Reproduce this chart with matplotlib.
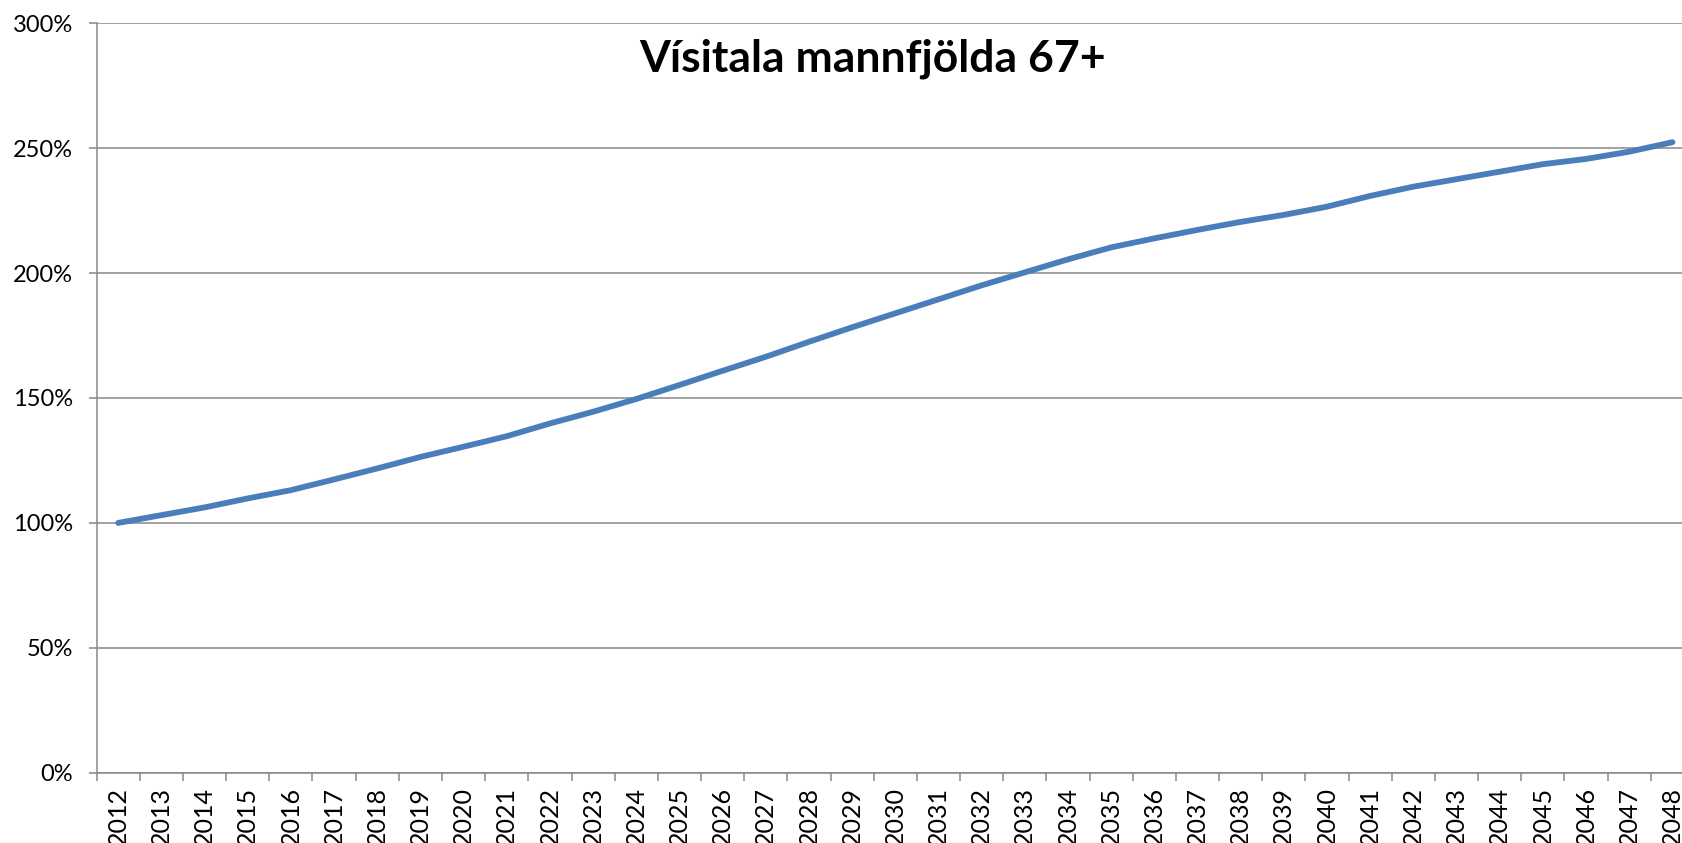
import matplotlib
matplotlib.use("Agg")
import matplotlib.pyplot as plt
from matplotlib.ticker import FixedLocator, FuncFormatter

years = list(range(2012, 2049))
values = [100.0, 103.1, 106.2, 109.8, 113.1, 117.4, 121.8, 126.4, 130.5, 134.7,
          139.8, 144.5, 149.6, 155.2, 160.9, 166.5, 172.5, 178.3, 183.9, 189.5,
          195.1, 200.3, 205.5, 210.3, 213.9, 217.3, 220.5, 223.3, 226.6, 230.9,
          234.6, 237.6, 240.6, 243.6, 245.7, 248.6, 252.4]
title = "Vísitala mannfjölda 67+"
y_ticks = [0, 50, 100, 150, 200, 250, 300]

plt.rcParams['font.family'] = ['Lato', 'DejaVu Sans']

fig = plt.figure(figsize=(16.83, 8.43), dpi=100)
ax = fig.add_axes([96.6/1683, 1-772.7/843, (1694-96.6)/1683, (772.7-23.3)/843])

x = list(range(len(years)))
ax.plot(x, values, color='#4A7EBB', linewidth=4.2, solid_capstyle='round', zorder=3)

ax.set_xlim(-0.5, len(years)-0.5)
ax.set_ylim(0, 300)

grid_c = '#888888'
ax.set_yticks(y_ticks)
ax.yaxis.set_major_formatter(FuncFormatter(lambda v, p: f"{int(v)}%"))
ax.grid(axis='y', color=grid_c, linewidth=1.1, zorder=1)
ax.tick_params(axis='y', direction='out', length=6, width=1.1, color=grid_c,
               labelsize=17, pad=11, labelcolor='black')

ax.set_xticks(x)
ax.set_xticklabels([str(y) for y in years], rotation=90)
ax.tick_params(axis='x', which='major', length=0, labelsize=18, pad=10, labelcolor='black')
ax.xaxis.set_minor_locator(FixedLocator([i - 0.5 for i in range(len(years)+1)]))
ax.tick_params(axis='x', which='minor', direction='out', length=6, width=1.1, color=grid_c)

for s in ['top', 'right']:
    ax.spines[s].set_visible(False)
for s in ['left', 'bottom']:
    ax.spines[s].set_color(grid_c)
    ax.spines[s].set_linewidth(1.1)

fig.text(873/1683, 1-59/843, title, ha='center', va='center',
         fontsize=32, fontweight='bold')

fig.savefig('out.png', dpi=100, facecolor='white')
